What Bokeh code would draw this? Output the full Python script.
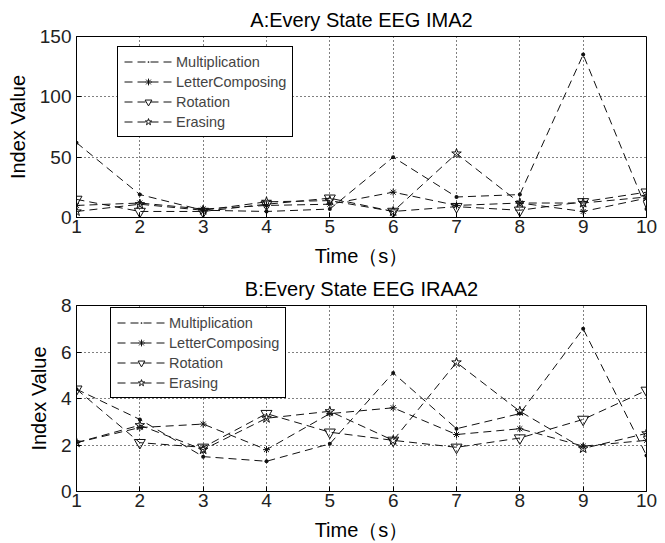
from bokeh.plotting import figure
from bokeh.layouts import column
from bokeh.models import Range1d, FixedTicker, Legend, LegendItem
from bokeh.embed import file_html
from bokeh.resources import INLINE

time = [1, 2, 3, 4, 5, 6, 7, 8, 9, 10]
series_names = ["Multiplication", "LetterComposing", "Rotation", "Erasing"]

ima2_mult = [62, 19, 6, 5, 7, 50, 17, 19, 135, 7]
ima2_letter = [10, 12, 7, 10, 11, 21, 10, 12, 5, 16]
ima2_rot = [15, 5, 5, 11, 16, 5, 9, 6, 13, 21]
ima2_eras = [5, 11, 6, 13, 14, 5, 53, 12, 12, 17]

iraa2_mult = [4.4, 3.1, 1.5, 1.3, 2.05, 5.1, 2.7, 3.35, 7.0, 1.55]
iraa2_letter = [2.1, 2.75, 2.9, 1.8, 3.35, 3.6, 2.45, 2.7, 1.95, 2.2]
iraa2_rot = [4.4, 2.1, 1.9, 3.35, 2.55, 2.2, 1.9, 2.3, 3.1, 4.35]
iraa2_eras = [2.1, 2.85, 1.8, 3.15, 3.45, 2.2, 5.55, 3.45, 1.85, 2.5]

yticks_a = [0, 50, 100, 150]
yticks_b = [0, 2, 4, 6, 8]

FONT = "Liberation Sans"
markers = [("dot", 16, True), ("asterisk", 7, False), ("inverted_triangle", 11, False), ("star", 10, False)]


def make(title, data, yticks, height, title_gap, bottom, legend_loc):
    p = figure(width=665, height=height, output_backend="svg", toolbar_location=None,
               x_range=Range1d(1, 10), y_range=Range1d(yticks[0], yticks[-1]),
               min_border_left=76, min_border_right=19, min_border_top=0,
               min_border_bottom=bottom)
    p.title.text = title
    p.title.align = "center"
    p.title.text_font = FONT
    p.title.text_font_size = "20px"
    p.title.text_font_style = "normal"
    p.title.text_color = "black"
    p.title.standoff = title_gap
    p.outline_line_color = "black"
    p.outline_line_alpha = 1
    for ax in (p.xaxis[0], p.yaxis[0]):
        ax.major_label_text_font = FONT
        ax.major_label_text_font_size = "19px"
        ax.major_label_text_color = "#222222"
        ax.axis_label_text_font = FONT
        ax.axis_label_text_font_size = "20px"
        ax.axis_label_text_font_style = "normal"
        ax.axis_label_text_color = "black"
        ax.axis_line_color = "black"
        ax.major_tick_in = 5
        ax.major_tick_out = 0
        ax.minor_tick_line_color = None
        ax.major_tick_line_color = "black"
    p.xaxis.ticker = FixedTicker(ticks=time)
    p.yaxis.ticker = FixedTicker(ticks=yticks)
    p.xaxis.axis_label = "Time（s）"
    p.yaxis.axis_label = "Index Value"
    p.xaxis.major_label_standoff = 2
    p.yaxis.major_label_standoff = 5
    p.xaxis.axis_label_standoff = 9
    p.yaxis.axis_label_standoff = 8
    for g in (p.xgrid[0], p.ygrid[0]):
        g.grid_line_color = "black"
        g.grid_line_dash = "1 3"
        g.grid_line_width = 1
    items = []
    for name, ys, (mk, sz, filled) in zip(series_names, data, markers):
        r1 = p.line(time, ys, line_color="#111111", line_width=1, line_dash="8 5")
        r2 = p.scatter(time, ys, marker=mk, size=sz, line_color="#111111",
                       fill_color="#111111" if filled else None, line_width=1)
        items.append(LegendItem(label=name, renderers=[r1, r2]))
    leg = Legend(items=items, location=legend_loc)
    leg.label_text_font = FONT
    leg.label_text_font_size = "14.5px"
    leg.label_height = 17
    leg.glyph_height = 17
    leg.glyph_width = 48
    leg.spacing = 3
    leg.padding = 6
    leg.label_standoff = 4
    leg.border_line_color = "black"
    leg.border_line_alpha = 1
    leg.background_fill_alpha = 1
    p.add_layout(leg, "center")
    return p


pa = make("A:Every State EEG IMA2", [ima2_mult, ima2_letter, ima2_rot, ima2_eras],
          yticks_a, 270, 12, 53, (41, 80))
pb = make("B:Every State EEG IRAA2", [iraa2_mult, iraa2_letter, iraa2_rot, iraa2_eras],
          yticks_b, 273, 11, 49, (34, 93))

layout = column(pa, pb, spacing=0)
open("out.html", "w").write(file_html(layout, INLINE))
